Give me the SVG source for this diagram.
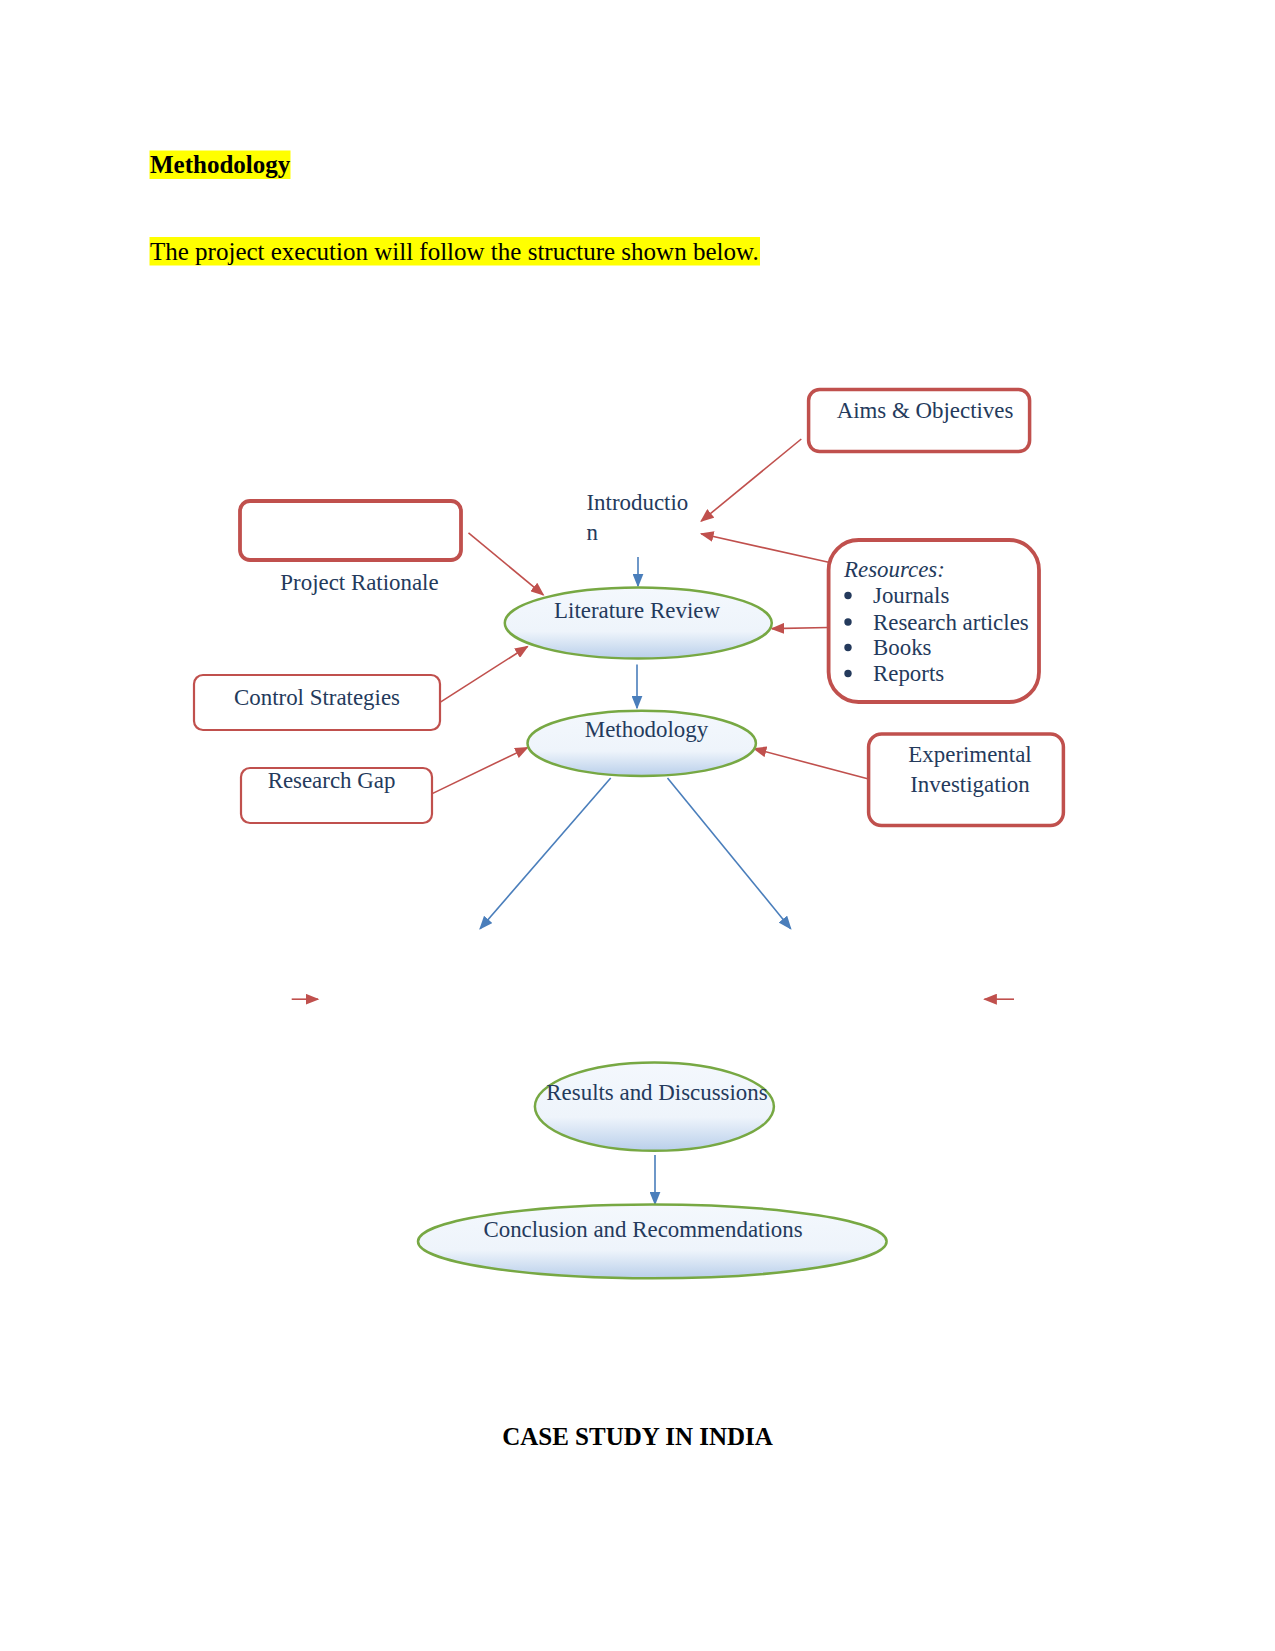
<svg xmlns="http://www.w3.org/2000/svg" width="1275" height="1651" viewBox="0 0 1275 1651">
<defs>
<linearGradient id="ellFill" x1="0" y1="0" x2="0" y2="1">
<stop offset="0" stop-color="#F4F8FD"/>
<stop offset="0.62" stop-color="#EEF4FB"/>
<stop offset="1" stop-color="#B9CFEA"/>
</linearGradient>
<marker id="ar" viewBox="0 0 10 8" refX="9" refY="4" markerWidth="14" markerHeight="11" markerUnits="userSpaceOnUse" orient="auto">
<path d="M0,0 L10,4 L0,8 z" fill="#C0504D"/>
</marker>
<marker id="ab" viewBox="0 0 10 8" refX="9" refY="4" markerWidth="14" markerHeight="11" markerUnits="userSpaceOnUse" orient="auto">
<path d="M0,0 L10,4 L0,8 z" fill="#4A7EBB"/>
</marker>
</defs>
<style>
.t{font-family:"Liberation Serif","Times New Roman",serif;font-size:22.9px;fill:#243A5C}
.h{font-family:"Liberation Serif","Times New Roman",serif;font-size:25px;fill:#000}
.box{fill:#fff;stroke:#C0504D}
.ell{fill:url(#ellFill);stroke:#77A843;stroke-width:2.5}
.rl{stroke:#C0504D;stroke-width:1.6;fill:none;marker-end:url(#ar)}
.bl{stroke:#4A7EBB;stroke-width:1.6;fill:none;marker-end:url(#ab)}
</style>
<rect width="1275" height="1651" fill="#fff"/>
<g id="heading">
<rect x="149.5" y="150.5" width="141" height="28.5" fill="#FFFF00"/>
<text class="h" x="150" y="172.5" font-weight="bold">Methodology</text>
<rect x="149.5" y="237" width="610.5" height="28.5" fill="#FFFF00"/>
<text class="h" x="150" y="259.5">The project execution will follow the structure shown below.</text>
</g>
<g id="connectors">
<line class="rl" x1="801.3" y1="439" x2="701.2" y2="521.2"/>
<line class="rl" x1="828.6" y1="562.3" x2="701.2" y2="533.8"/>
<line class="rl" x1="828.6" y1="627.5" x2="771.8" y2="628.6"/>
<line class="rl" x1="468.5" y1="532.8" x2="543.3" y2="594.9"/>
<line class="rl" x1="440" y1="702.3" x2="527.5" y2="646.5"/>
<line class="rl" x1="431.7" y1="793.9" x2="527.5" y2="747.6"/>
<line class="rl" x1="868.6" y1="779.1" x2="754" y2="748.6"/>
<line class="rl" x1="291.7" y1="999.2" x2="318" y2="999.2"/>
<line class="rl" x1="1014" y1="999.2" x2="984.5" y2="999.2"/>
<line class="bl" x1="638" y1="557" x2="638" y2="586"/>
<line class="bl" x1="637" y1="664.4" x2="637" y2="708"/>
<line class="bl" x1="610.7" y1="778" x2="480.1" y2="928.7"/>
<line class="bl" x1="667.5" y1="778" x2="790.7" y2="928.7"/>
<line class="bl" x1="655" y1="1155" x2="655" y2="1204"/>
</g>
<g id="aims">
<rect class="box" x="808.6" y="389.6" width="221" height="62" rx="11" stroke-width="3.5"/>
<text class="t" x="925" y="418" text-anchor="middle">Aims &amp; Objectives</text>
</g>
<g id="introduction">
<text class="t" x="586.5" y="510">Introductio</text>
<text class="t" x="586.5" y="540">n</text>
</g>
<g id="rationale">
<rect class="box" x="240" y="501" width="221" height="59" rx="10" stroke-width="3.8"/>
<text class="t" x="359.5" y="590" text-anchor="middle">Project Rationale</text>
</g>
<g id="resources">
<rect class="box" x="828.6" y="540" width="210.4" height="162" rx="30" stroke-width="3.8"/>
<text class="t" x="844" y="577" font-style="italic">Resources:</text>
<g fill="#243A5C">
<circle cx="848" cy="595.5" r="3.7"/>
<circle cx="848" cy="622" r="3.7"/>
<circle cx="848" cy="647.5" r="3.7"/>
<circle cx="848" cy="673.5" r="3.7"/>
</g>
<text class="t" x="873" y="603">Journals</text>
<text class="t" x="873" y="629.5">Research articles</text>
<text class="t" x="873" y="655">Books</text>
<text class="t" x="873" y="681">Reports</text>
</g>
<g id="literature-review">
<ellipse class="ell" cx="638.3" cy="623" rx="133.5" ry="35.5"/>
<text class="t" x="637" y="618" text-anchor="middle">Literature Review</text>
</g>
<g id="control-strategies">
<rect class="box" x="194" y="675" width="246" height="55" rx="9" stroke-width="2.2"/>
<text class="t" x="317" y="705" text-anchor="middle">Control Strategies</text>
</g>
<g id="research-gap">
<rect class="box" x="241" y="768" width="191" height="55" rx="9" stroke-width="2.2"/>
<text class="t" x="331.5" y="787.5" text-anchor="middle">Research Gap</text>
</g>
<g id="methodology">
<ellipse class="ell" cx="641.7" cy="743.3" rx="114.2" ry="32.6"/>
<text class="t" x="646.5" y="737" text-anchor="middle">Methodology</text>
</g>
<g id="experimental">
<rect class="box" x="868.6" y="734" width="194.8" height="91.5" rx="13" stroke-width="3.5"/>
<text class="t" x="970" y="762" text-anchor="middle">Experimental</text>
<text class="t" x="970" y="792" text-anchor="middle">Investigation</text>
</g>
<g id="results">
<ellipse class="ell" cx="654.4" cy="1106.6" rx="119.5" ry="44.2"/>
<text class="t" x="657" y="1100" text-anchor="middle">Results and Discussions</text>
</g>
<g id="conclusion">
<ellipse class="ell" cx="652.3" cy="1241.4" rx="234.3" ry="36.9"/>
<text class="t" x="643" y="1237" text-anchor="middle">Conclusion and Recommendations</text>
</g>
<g id="footer">
<text class="h" x="637.5" y="1444.5" text-anchor="middle" font-weight="bold">CASE STUDY IN INDIA</text>
</g>
</svg>
